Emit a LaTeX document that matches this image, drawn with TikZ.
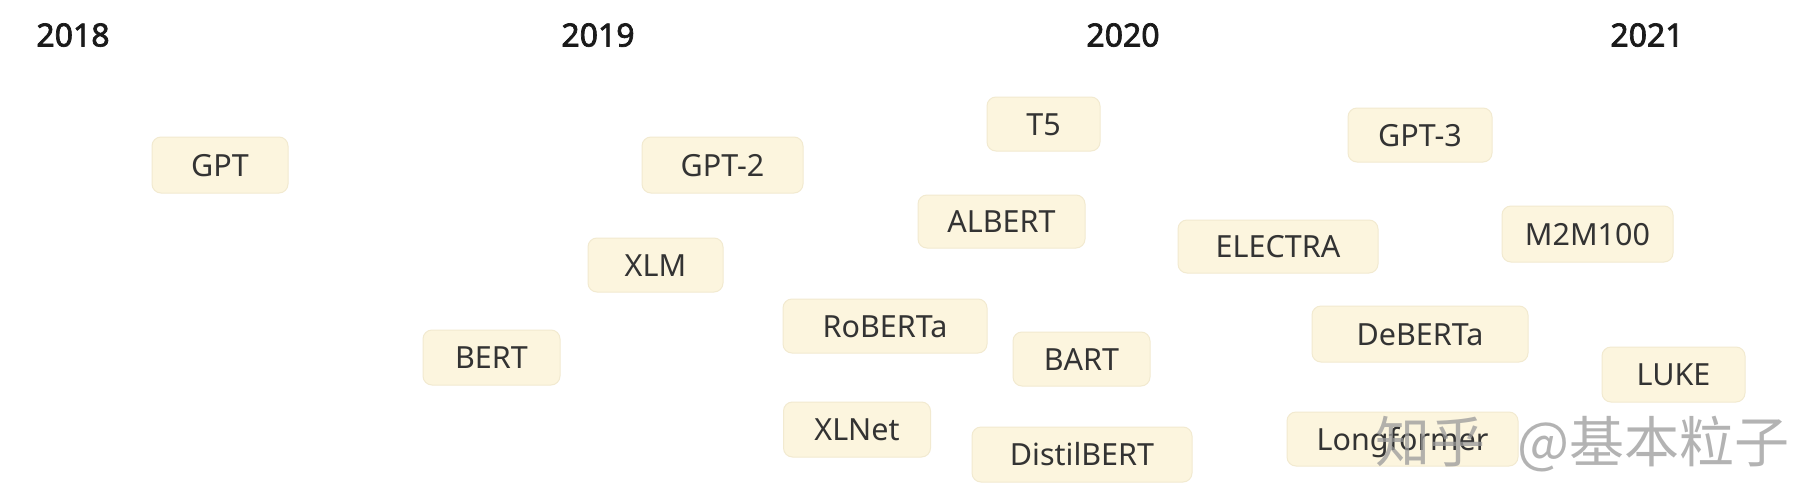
\documentclass[tikz,border=0pt]{standalone}
\usepackage{fontspec}
\setmainfont{Noto Sans}
\newfontfamily\yearfont{Noto Sans}[FakeBold=2.2]
\newfontfamily\cjk{Noto Sans CJK SC}
\definecolor{boxfill}{HTML}{FCF5DE}
\definecolor{boxedge}{HTML}{F2EAD0}
\definecolor{labeltext}{HTML}{333333}
\definecolor{yeartext}{HTML}{1A1A1A}
\definecolor{wmark}{HTML}{9A9A9A}
\tikzset{
  model/.style={draw=boxedge, line width=1pt, fill=boxfill, rounded corners=9pt,
    inner sep=0pt, text height=22pt, text depth=0pt, text=labeltext,
    font=\fontsize{30.5}{36}\selectfont},
  year/.style={inner sep=0pt, text height=24pt, text depth=0pt, text=yeartext,
    font=\yearfont\fontsize{32}{40}\selectfont},
  wm/.style={inner sep=0pt, text=wmark, opacity=0.75,
    font=\cjk\fontsize{55}{62}\selectfont}
}
\begin{document}
\begin{tikzpicture}[x=1pt,y=-1pt]
\useasboundingbox[fill=white] (0,0) rectangle (1818,498);
% years
\node[year] (y2018) at (73,34.5) {2018};
\node[year] (y2019) at (598,34.5) {2019};
\node[year] (y2020) at (1123,34.5) {2020};
\node[year] (y2021) at (1647,34.5) {2021};
% models
\node[model, minimum width=136pt, minimum height=56pt] (gpt) at (220,165) {GPT};
\node[model, minimum width=137pt, minimum height=55pt] (bert) at (491.5,357.5) {BERT};
\node[model, minimum width=161pt, minimum height=56pt] (gpt2) at (722.5,165) {GPT-2};
\node[model, minimum width=135pt, minimum height=54pt] (xlm) at (655.5,265) {XLM};
\node[model, minimum width=204pt, minimum height=54pt] (roberta) at (885,326) {RoBERTa};
\node[model, minimum width=147pt, minimum height=55pt] (xlnet) at (857,429.5) {XLNet};
\node[model, minimum width=113pt, minimum height=54pt] (t5) at (1043.5,124) {T5};
\node[model, minimum width=167pt, minimum height=53pt] (albert) at (1001.5,221.5) {ALBERT};
\node[model, minimum width=137pt, minimum height=54pt] (bart) at (1081.5,359) {BART};
\node[model, minimum width=220pt, minimum height=55pt] (distilbert) at (1082,454.5) {DistilBERT};
\node[model, minimum width=200pt, minimum height=53pt] (electra) at (1278,246.5) {ELECTRA};
\node[model, minimum width=144pt, minimum height=54pt] (gpt3) at (1420,135) {GPT-3};
\node[model, minimum width=216pt, minimum height=56pt] (deberta) at (1420,334) {DeBERTa};
\node[model, minimum width=231pt, minimum height=54pt] (longformer) at (1402.5,439) {Longformer};
\node[model, minimum width=171pt, minimum height=56pt] (m2m) at (1587.5,234) {M2M100};
\node[model, minimum width=143pt, minimum height=55pt] (luke) at (1673.5,374.5) {LUKE};
% watermark
\node[wm, anchor=base west] (wmzhihu) at (1375,462) {知乎};
\node[wm, anchor=base east] (wmuser) at (1790,462) {@基本粒子};
\end{tikzpicture}
\end{document}
